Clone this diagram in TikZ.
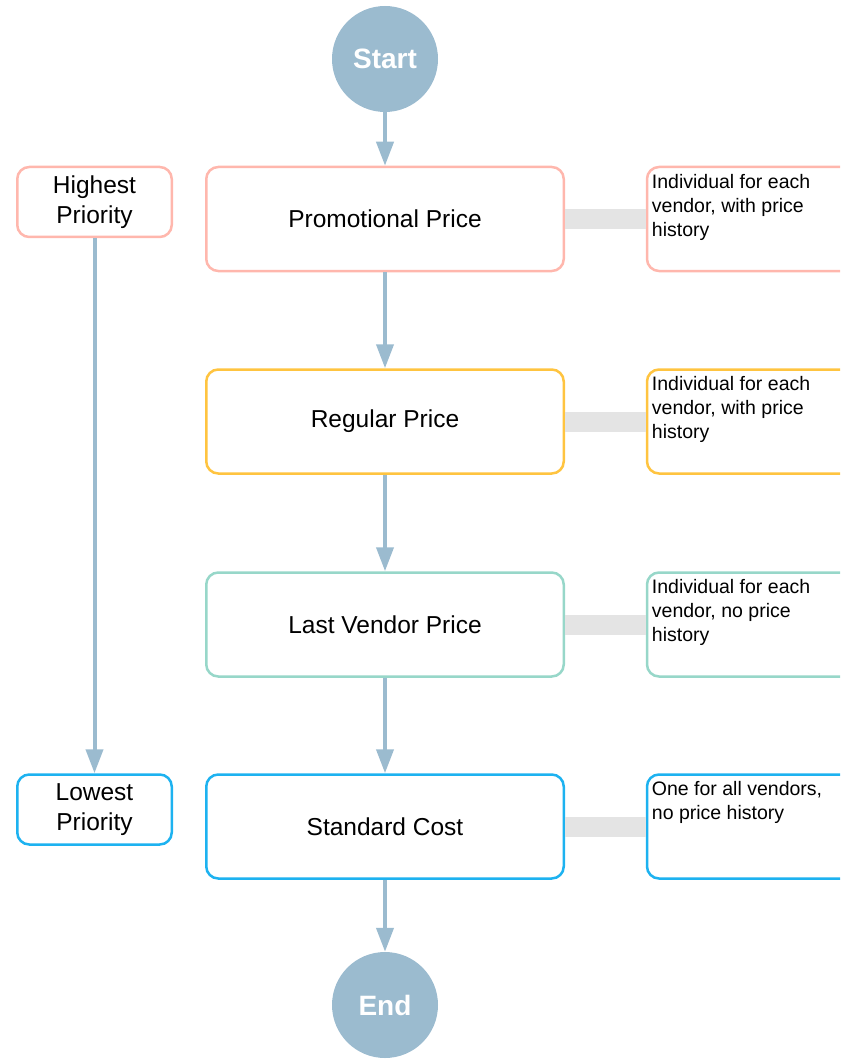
\documentclass[tikz,border=0pt]{standalone}
\usepackage{fontspec}
\setmainfont{Liberation Sans}
\usetikzlibrary{positioning,arrows.meta}
\definecolor{promo}{HTML}{FFB7AD}
\definecolor{regular}{HTML}{FFC440}
\definecolor{lastvendor}{HTML}{97D7C9}
\definecolor{stdcost}{HTML}{1DB2F0}
\definecolor{flowblue}{HTML}{9BBBCF}
\definecolor{bargray}{HTML}{E4E4E4}
\tikzset{
price/.style={draw=#1, line width=2.5pt, rounded corners=12pt, fill=white, inner sep=0pt,
  minimum width=357.5pt, minimum height=104pt, font=\fontsize{24.5}{30}\selectfont},
prio/.style={draw=#1, line width=2.5pt, rounded corners=12pt, fill=white, inner sep=0pt,
  minimum width=154.5pt, minimum height=70pt, align=center, font=\fontsize{24.5}{30}\selectfont},
note/.style={draw=#1, line width=2.5pt, rounded corners=12pt, fill=white, inner sep=0pt,
  minimum width=220pt, minimum height=104pt},
notetext/.style={anchor=north west, align=left, inner sep=0pt, font=\fontsize{19.5}{24}\selectfont},
term/.style={circle, fill=flowblue, inner sep=0pt, minimum size=106pt, text=white,
  font=\fontsize{28}{30}\selectfont\bfseries},
flow/.style={draw=flowblue, line width=4pt, -{Triangle[length=24pt,width=17pt]}},
bar/.style={draw=bargray, line width=20pt}
}
\begin{document}
\begin{tikzpicture}[x=1pt,y=-1pt]
\useasboundingbox (0,0) rectangle (840,1059);
\clip (0,0) rectangle (840,1059);

% start and end
\node[term] (start) at (385,59) {Start};
\node[term] (end) at (385,1005) {End};

% price levels
\node[price=promo] (pp) at (385,219) {Promotional Price};
\node[price=regular] (rp) at (385,421.5) {Regular Price};
\node[price=lastvendor] (lv) at (385,624.5) {Last Vendor Price};
\node[price=stdcost] (sc) at (385,826.5) {Standard Cost};

% notes on the right
\node[note=promo] (npp) at (757,219) {};
\node[note=regular] (nrp) at (757,421.5) {};
\node[note=lastvendor] (nlv) at (757,624.5) {};
\node[note=stdcost] (nsc) at (757,826.5) {};
\node[notetext] (tpp) at ([shift={(6,8)}]npp.north west) {Individual for each\\vendor, with price\\history};
\node[notetext] (trp) at ([shift={(6,8)}]nrp.north west) {Individual for each\\vendor, with price\\history};
\node[notetext] (tlv) at ([shift={(6,8)}]nlv.north west) {Individual for each\\vendor, no price\\history};
\node[notetext] (tsc) at ([shift={(6,8)}]nsc.north west) {One for all vendors,\\no price history};

% priority
\node[prio=promo] (hp) at (94.5,202) {Highest\\Priority};
\node[prio=stdcost] (lp) at (94.5,809.5) {Lowest\\Priority};

\draw[bar] (pp) -- (npp);
\draw[bar] (rp) -- (nrp);
\draw[bar] (lv) -- (nlv);
\draw[bar] (sc) -- (nsc);

\draw[flow] (start) -- (pp);
\draw[flow] (pp) -- (rp);
\draw[flow] (rp) -- (lv);
\draw[flow] (lv) -- (sc);
\draw[flow] (sc) -- (end);
\draw[flow] (hp) -- (lp);
\end{tikzpicture}
\end{document}
